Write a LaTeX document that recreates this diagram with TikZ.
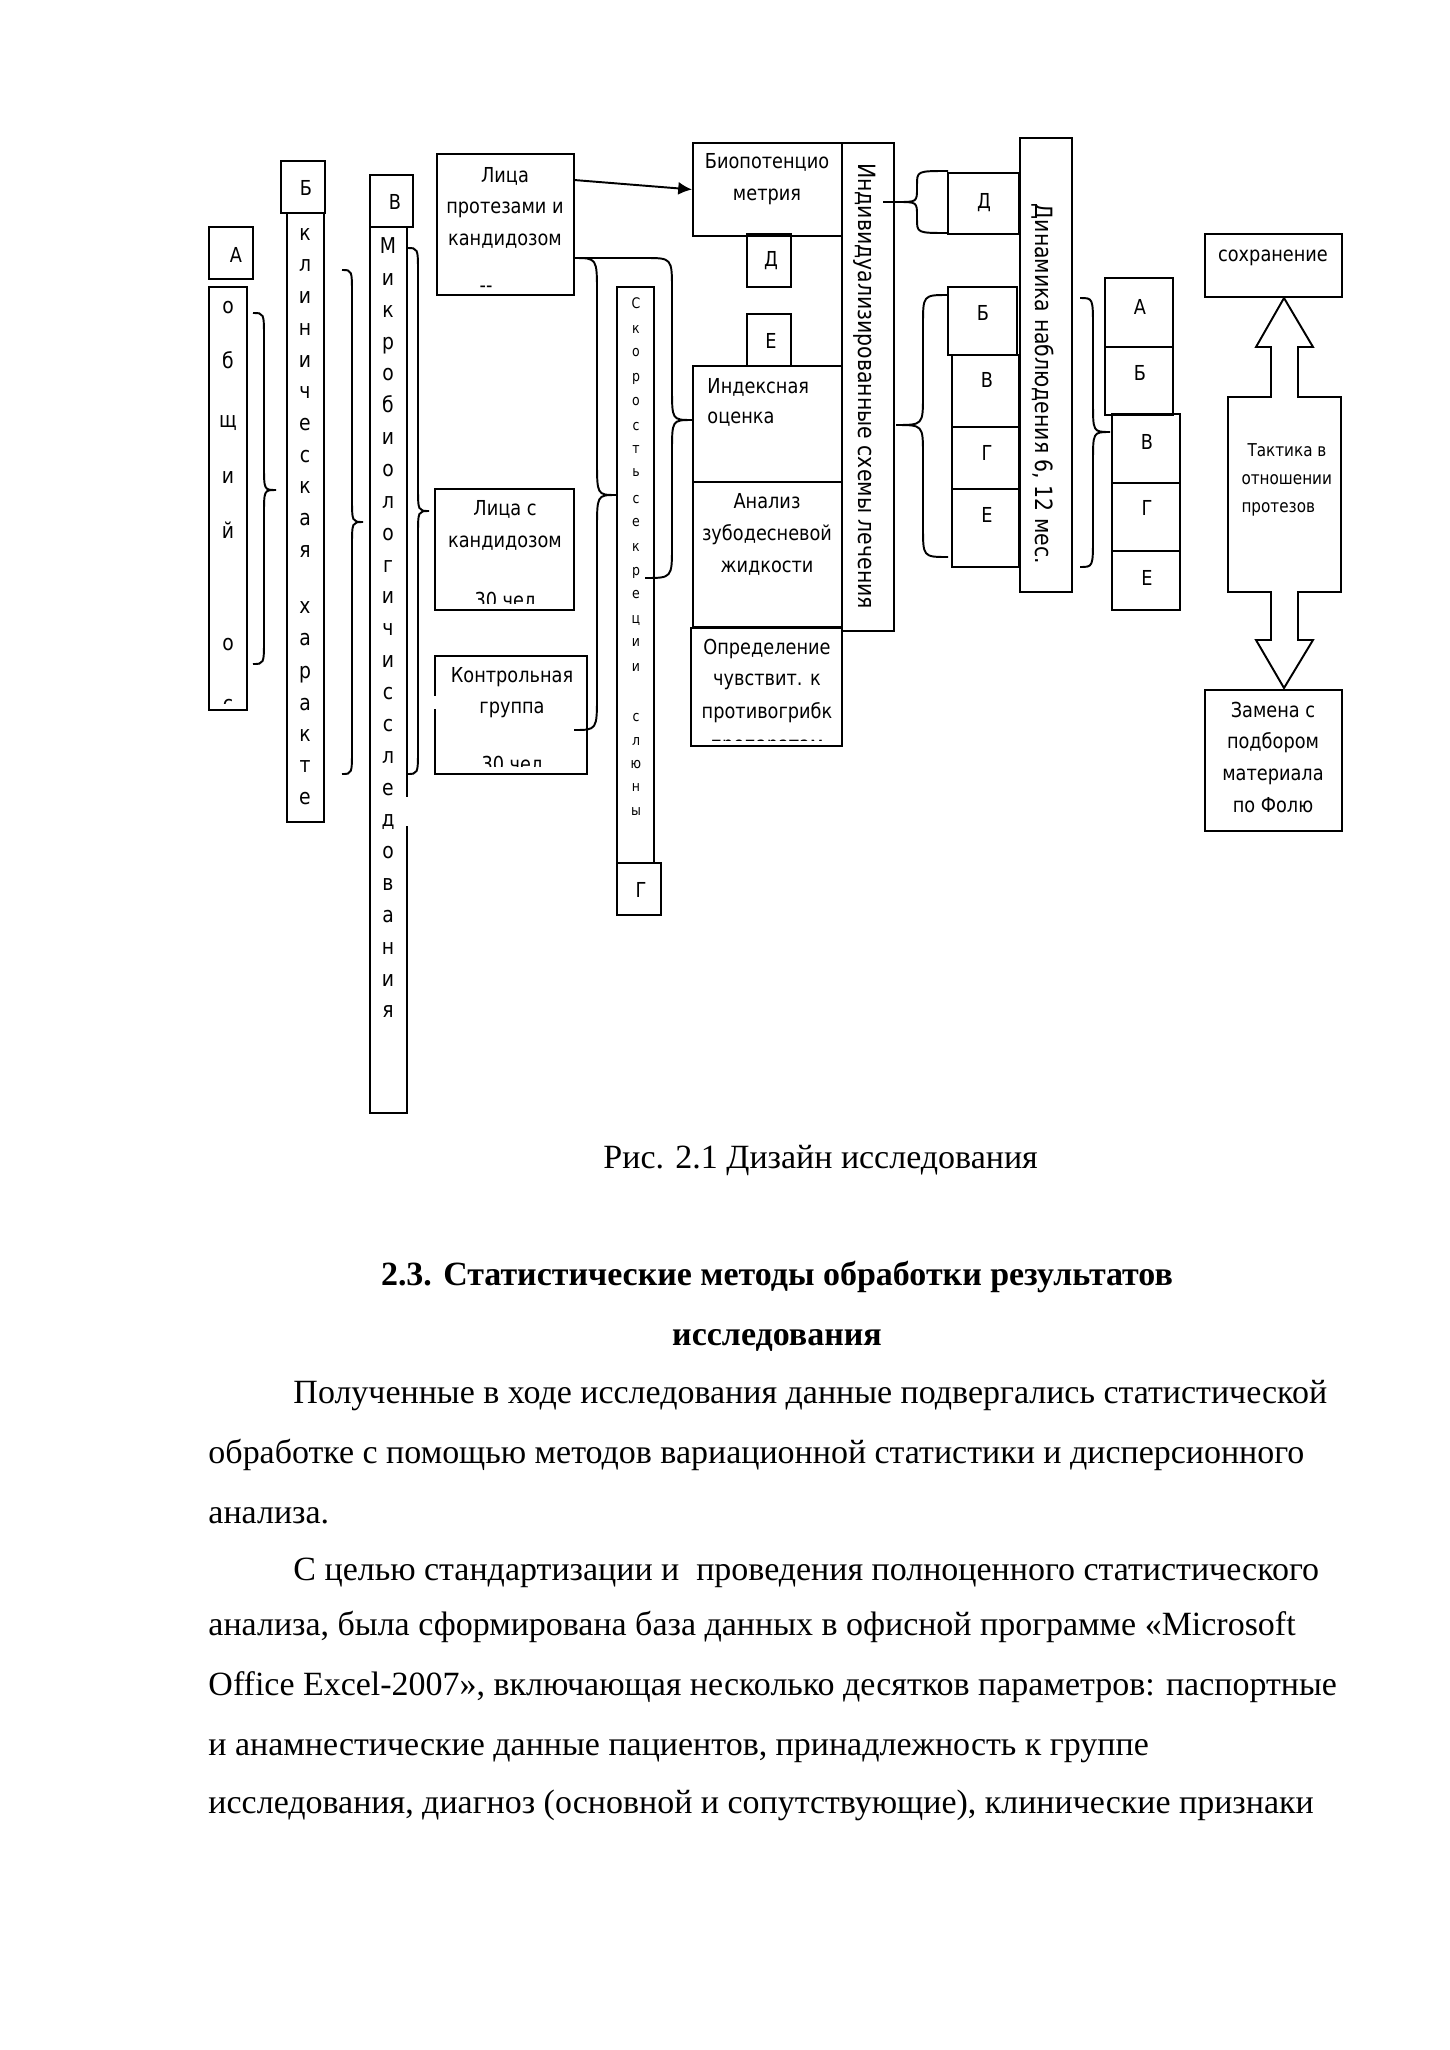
\documentclass[tikz,border=0pt]{standalone}
\usepackage{fontspec}
\setmainfont{Liberation Serif}
\newfontfamily\dgf[FakeStretch=0.86]{DejaVu Sans}
\usetikzlibrary{fit,arrows.meta}
\newcommand\BrK[7]{\draw[brc] (#1,#2) .. controls (#4,#2) .. (#4,#2+#7) -- (#4,#6-#7) .. controls (#4,#6) .. (#5,#6) .. controls (#4,#6) .. (#4,#6+#7) -- (#4,#3-#7) .. controls (#4,#3) .. (#1,#3);}
\newcommand\Bx[5]{\node[box, fit={(#2,#3)(#4,#5)}] (#1) {};}
\begin{document}
\begin{tikzpicture}[x=0.1449mm,y=-0.1449mm,
  box/.style={draw, line width=0.8pt, inner sep=0pt},
  brc/.style={draw, line width=0.8pt},
  dt/.style={font=\dgf\fontsize{8.5}{10}\selectfont, inner sep=0pt, text height=4.6pt, text depth=0pt},
  vt/.style={font=\dgf\fontsize{9}{10}\selectfont, inner sep=0pt, text height=4.6pt, text depth=0pt},
  lt/.style={font=\dgf\fontsize{8.5}{10}\selectfont, inner sep=0pt},
  st/.style={font=\dgf\fontsize{6}{7}\selectfont, inner sep=0pt, text height=3.2pt, text depth=0pt},
  tt/.style={font=\dgf\fontsize{7.3}{9}\selectfont, inner sep=0pt, text height=4pt, text depth=0pt, anchor=west},
  rt/.style={font=\dgf\fontsize{9.8}{11}\selectfont, inner sep=0pt, rotate=-90},
  bt/.style={font=\fontsize{14}{16}\selectfont, inner sep=0pt, anchor=base west},
  ht/.style={font=\fontsize{14}{16}\selectfont\bfseries, inner sep=0pt, anchor=base},
  arr/.style={line width=0.8pt, -{Latex[length=2mm,width=1.9mm]}}
]
\useasboundingbox (0,0) rectangle (1449,2050);

% ---- column A ----
\Bx{bA}{209}{227}{253}{279}
\node[lt] (lA) at (236,255) {А};
\Bx{cA}{209}{287}{247}{710}
\begin{scope}
\clip (209,287) rectangle (247,703);
\foreach \l/\y [count=\i] in {о/308, б/363, щ/422, и/478, й/533, о/645, с/706}
  \node[vt] (cA\i) at (228,\y) {\l};
\end{scope}

% ---- column B ----
\Bx{bB}{281}{161}{325}{213}
\node[lt] (lB) at (306,188) {Б};
\Bx{cB}{287}{213}{324}{822}
\foreach \l/\y [count=\i] in {к/235, л/266, и/298, н/330, и/362, ч/393, е/425, с/457, к/488, а/520, я/552, х/608, а/640, р/673, а/705, к/736, т/767, е/799}
  \node[vt] (cB\i) at (305,\y) {\l};

% ---- column V ----
\Bx{bV}{370}{175}{413}{227}
\node[lt] (lV) at (395,202) {В};
\Bx{cV}{370}{227}{407}{1113}
\foreach \l [count=\i] in {М, и, к, р, о, б, и, о, л, о, г, и, ч, и, с, с, л, е, д, о, в, а, н, и, я}
  \node[vt] (cV\i) at (388,{248+31.85*(\i-1)}) {\l};
\draw[white, line width=2pt] (407,797) -- (407,826);

% ---- groups ----
\Bx{lp}{437}{154}{574}{295}
\node[dt] (lp1) at (505,177) {Лица};
\node[dt] (lp2) at (505,208) {протезами и};
\node[dt] (lp3) at (505,240) {кандидозом};
\node[dt] (lp4) at (486,287) {-{}-};

\Bx{lc}{435}{489}{574}{610}
\node[dt] (lc1) at (505,510) {Лица с};
\node[dt] (lc2) at (505,542) {кандидозом};
\begin{scope}
\clip (436,490) rectangle (573,603);
\node[dt] (lc3) at (505,602) {30 чел};
\end{scope}

\Bx{kg}{435}{656}{587}{774}
\node[dt] (kg1) at (512,677) {Контрольная};
\node[dt] (kg2) at (512,708) {группа};
\begin{scope}
\clip (436,657) rectangle (586,766);
\node[dt] (kg3) at (512,766) {30 чел};
\end{scope}
\draw[white, line width=2pt] (435,696) -- (435,709);

% ---- saliva column ----
\Bx{sk}{617}{287}{654}{863}
\foreach \l/\y [count=\i] in {С/305, к/330, о/353, р/378, о/402, с/427, т/450, ь/473, с/500, е/523, к/548, р/572, е/595, ц/620, и/643, и/668, с/718, л/742, ю/765, н/788, ы/812}
  \node[st] (sk\i) at (636,\y) {\l};
\Bx{bG}{617}{863}{661}{915}
\node[lt] (lG) at (641,890) {Г};

% ---- methods ----
\Bx{bio}{693}{143}{842}{236}
\node[dt] (bio1) at (767,163) {Биопотенцио};
\node[dt] (bio2) at (767,195) {метрия};
\Bx{dsm}{747}{234}{791}{287}
\node[lt] (ldsm) at (771,261) {Д};
\Bx{esm}{747}{314}{791}{366}
\node[lt] (lesm) at (771,341) {Е};
\Bx{idx}{693}{366}{842}{482}
\node[dt, anchor=west] (idx1) at (707,388) {Индексная};
\node[dt, anchor=west] (idx2) at (707,418) {оценка};
\Bx{anl}{693}{482}{842}{627}
\node[dt] (anl1) at (767,503) {Анализ};
\node[dt] (anl2) at (767,535) {зубодесневой};
\node[dt] (anl3) at (767,567) {жидкости};
\Bx{opr}{691}{628}{842}{746}
\node[dt] (opr1) at (767,649) {Определение};
\node[dt] (opr2) at (767,680) {чувствит. к};
\node[dt] (opr3) at (767,713) {противогрибк};
\begin{scope}
\clip (692,629) rectangle (841,740);
\node[dt] (opr4) at (767,746) {препаратам};
\end{scope}

% ---- individual schemes ----
\Bx{ind}{842}{143}{894}{631}
\node[rt] (tind) at (865,386) {Индивидуализированные схемы лечения};

\Bx{dR}{948}{173}{1019}{234}
\node[lt] (ldR) at (984,203) {Д};

\Bx{s1b}{948}{287}{1017}{355}
\node[lt] (l1b) at (983,313) {Б};
\Bx{s1v}{952}{355}{1019}{427}
\node[lt] (l1v) at (987,380) {В};
\Bx{s1g}{952}{427}{1019}{489}
\node[lt] (l1g) at (987,453) {Г};
\Bx{s1e}{952}{489}{1019}{567}
\node[lt] (l1e) at (987,515) {Е};

\Bx{din}{1020}{138}{1072}{592}
\node[rt] (tdin) at (1043,384) {Динамика наблюдения 6, 12 мес.};

\Bx{s2a}{1105}{278}{1173}{347}
\node[lt] (l2a) at (1140,307) {А};
\Bx{s2b}{1105}{347}{1173}{415}
\node[lt] (l2b) at (1140,373) {Б};
\Bx{s2v}{1112}{414}{1180}{483}
\node[lt] (l2v) at (1147,442) {В};
\Bx{s2g}{1112}{483}{1180}{551}
\node[lt] (l2g) at (1147,508) {Г};
\Bx{s2e}{1112}{551}{1180}{610}
\node[lt] (l2e) at (1147,578) {Е};

% ---- tactics ----
\Bx{sohr}{1205}{234}{1342}{297}
\node[dt] (sohr1) at (1273,256) {сохранение};
\draw[line width=0.8pt] (1284,298) -- (1313,347) -- (1298,347) -- (1298,397) -- (1341,397) -- (1341,592) -- (1298,592) -- (1298,640) -- (1313,640) -- (1284,688) -- (1256,640) -- (1271,640) -- (1271,592) -- (1228,592) -- (1228,397) -- (1271,397) -- (1271,347) -- (1256,347) -- cycle;
\node[tt] (tk1) at (1247,452) {Тактика в};
\node[tt] (tk2) at (1241,480) {отношении};
\node[tt] (tk3) at (1241,508) {протезов};
\Bx{zam}{1205}{690}{1342}{831}
\node[dt] (zam1) at (1273,712) {Замена с};
\node[dt] (zam2) at (1273,743) {подбором};
\node[dt] (zam3) at (1273,775) {материала};
\node[dt] (zam4) at (1273,807) {по Фолю};

% ---- connectors ----
\coordinate (a0) at (574,180);
\draw[arr] (a0) -- (bio.west);
\BrK{253}{313}{664}{264}{276}{490}{25}
\BrK{342}{270}{774}{352}{363}{522}{25}
\BrK{407}{248}{774}{418}{429}{511}{25}
\BrK{574}{258}{730}{597}{616}{495}{35}
\draw[brc] (574,258) -- (645,258);
\BrK{645}{258}{578}{672}{692}{420}{32}
\BrK{948}{171}{233}{917}{897}{202}{14}
\draw[brc] (897,202) -- (883,202);
\BrK{948}{295}{557}{923}{896}{425}{30}
\BrK{1080}{298}{567}{1093}{1110}{432}{30}

% ---- caption and text ----
\node[bt] (cap) at (603,1168) {Рис. 2.1 Дизайн исследования};
\node[ht] (h1) at (777,1285) {2.3. Статистические методы обработки результатов};
\node[ht] (h2) at (777,1345) {исследования};
\node[bt] (p1) at (293,1403) {Полученные в ходе исследования данные подвергались статистической};
\node[bt] (p2) at (208,1463) {обработке с помощью методов вариационной статистики и дисперсионного};
\node[bt] (p3) at (208,1523) {анализа.};
\node[bt] (p4) at (293,1580) {С целью стандартизации и~ проведения полноценного статистического};
\node[bt] (p5) at (208,1635) {анализа, была сформирована база данных в офисной программе «Microsoft};
\node[bt] (p6) at (208,1695) {Office Excel-2007», включающая несколько десятков параметров: паспортные};
\node[bt] (p7) at (208,1755) {и анамнестические данные пациентов, принадлежность к группе};
\node[bt] (p8) at (208,1813) {исследования, диагноз (основной и сопутствующие), клинические признаки};
\end{tikzpicture}
\end{document}
